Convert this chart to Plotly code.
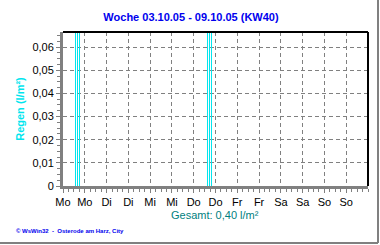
import plotly.graph_objects as go

# Data
rain_hours = [7.44, 8.54, 80.14, 81.24]       # hours since Mo 00:00 (bar centres)
rain_values = [0.1, 0.1, 0.1, 0.1]            # l/m² per interval (clipped by axis)
bar_width = 1.1                               # hours
tick_hours = [0, 12, 24, 36, 48, 60, 72, 84, 96, 108, 120, 132, 144, 156]
tick_labels = ["Mo", "Mo", "Di", "Di", "Mi", "Mi", "Do", "Do", "Fr", "Fr", "Sa", "Sa", "So", "So"]
y_ticks = [0, 0.01, 0.02, 0.03, 0.04, 0.05, 0.06]
y_labels = ["0", "0,01", "0,02", "0,03", "0,04", "0,05", "0,06"]

# outline bars (WsWin style: hollow bars with cyan edges)
ox, oy = [], []
for h, v in zip(rain_hours, rain_values):
    for e in (h - bar_width / 2, h + bar_width / 2):
        ox += [e, e, None]
        oy += [0, v, None]

fig = go.Figure()
fig.add_trace(go.Scatter(x=ox, y=oy, mode="lines", line=dict(color="#00e5ee", width=1),
                         hoverinfo="skip"))

font = "Liberation Sans, Arial, sans-serif"
fig.update_layout(
    width=380, height=245,
    margin=dict(l=63, r=12, t=32, b=59),
    paper_bgcolor="white", plot_bgcolor="white",
    showlegend=False,
    title=dict(text="<b>Woche 03.10.05 - 09.10.05 (KW40)</b>",
               font=dict(family=font, size=11, color="#0000ee"),
               x=(191 / 380), xanchor="center", y=1 - 17 / 245, yanchor="middle"),
    xaxis=dict(range=[0, 168], tickvals=tick_hours, ticktext=tick_labels,
               showgrid=True, gridcolor="#808080", griddash="4px,3px", gridwidth=1,
               showline=True, linecolor="#808080", linewidth=3,
               ticks="outside", ticklen=4, tickcolor="#808080",
               minor=dict(dtick=3, tick0=0, ticks="outside", ticklen=3, tickcolor="#808080", showgrid=False),
               tickfont=dict(family=font, size=11, color="black"), zeroline=False, fixedrange=True),
    yaxis=dict(range=[0, 0.0665], tickvals=y_ticks, ticktext=y_labels,
               showgrid=True, gridcolor="#808080", griddash="4px,3px", gridwidth=1,
               showline=True, linecolor="#808080", linewidth=3,
               ticks="outside", ticklen=4, tickcolor="#808080",
               minor=dict(dtick=0.0025, tick0=0, ticks="outside", ticklen=3, tickcolor="#808080", showgrid=False),
               tickfont=dict(family=font, size=11, color="black"), zeroline=False,
               title=dict(text="<b>Regen (l/m²)</b>", font=dict(family=font, size=11, color="#00e5ee"), standoff=6)),
    shapes=[
        dict(type="line", xref="paper", yref="paper", x0=0, x1=1, y0=1, y1=1, line=dict(color="black", width=2)),
        dict(type="line", xref="paper", yref="paper", x0=1, x1=1, y0=0, y1=1, line=dict(color="black", width=2)),
    ],
    annotations=[
        dict(text="Gesamt: 0,40 l/m²", xref="paper", yref="paper", x=(215 - 63) / 305, y=-(215 - 186) / 154,
             xanchor="center", yanchor="middle", showarrow=False,
             font=dict(family=font, size=11, color="#008080")),
        dict(text="<b>© WsWin32  -  Osterode am Harz, City</b>", xref="paper", yref="paper",
             x=-(63 - 14) / 305, y=-(231 - 186) / 154, xanchor="left", yanchor="middle", showarrow=False,
             font=dict(family=font, size=6, color="#0000ee")),
    ],
)
# window frame (gray right/bottom border)
fig.add_shape(type="line", xref="paper", yref="paper", x0=(378 - 63) / 305, x1=(378 - 63) / 305,
              y0=-(243 - 186) / 154, y1=(186 - 0) / 154, line=dict(color="#808080", width=2))
fig.add_shape(type="line", xref="paper", yref="paper", x0=-63 / 305, x1=(378 - 63) / 305,
              y0=-(243 - 186) / 154, y1=-(243 - 186) / 154, line=dict(color="#808080", width=2))

fig.write_html("out.html")
